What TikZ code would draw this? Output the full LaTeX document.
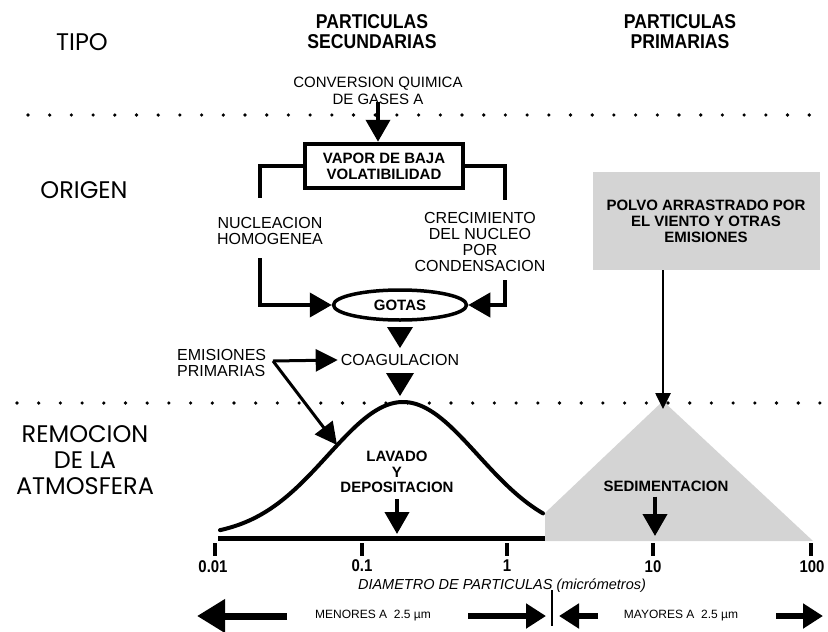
\documentclass[tikz,border=0pt]{standalone}
\usepackage{fontspec}
\setmainfont{Liberation Sans}
\newfontfamily\geo{Poppins}
\newfontfamily\hdr{Liberation Sans}[FakeStretch=0.88]
\usetikzlibrary{arrows.meta,shapes.geometric}
\definecolor{halftone}{gray}{0.83}
\begin{document}
\begin{tikzpicture}[x=1pt,y=-1pt,
  lbl/.style={font={\geo\fontsize{24}{26}\selectfont}, align=center, inner sep=0pt},
  hd/.style={font={\hdr\bfseries\fontsize{20}{20}\selectfont}, align=center, inner sep=0pt},
  txt/.style={font={\fontsize{16}{16.5}\selectfont}, align=center, inner sep=0pt},
  bl/.style={font={\bfseries\fontsize{15}{16}\selectfont}, align=center, inner sep=0pt},
  tick/.style={font={\hdr\bfseries\fontsize{17}{17}\selectfont}, inner sep=0pt},
  small/.style={font={\fontsize{12}{12}\selectfont}, inner sep=0pt},
  flow/.style={line width=4pt, -{Triangle[length=22pt,width=24pt]}},
  flowthin/.style={line width=3pt, -{Triangle[length=22pt,width=22pt]}},
  flowhair/.style={line width=2.6pt, -{Triangle[length=16pt,width=15pt]}},
  branch/.style={line width=4pt},
  bigarrow/.style={line width=7pt, -{Triangle[length=28pt,width=32pt]}},
  medarrow/.style={line width=6pt, -{Triangle[length=20pt,width=24pt]}},
  dotrow/.style={fill=black}
]
\useasboundingbox (0,0) rectangle (828,632);

% dotted separators
\foreach \k in {0,...,36} \fill[dotrow] (28+21.7*\k,115) circle (1.8pt);
\foreach \k in {0,...,37} \fill[dotrow] (17+21.7*\k,403) circle (1.8pt);

% column headings
\node[lbl] (tipo) at (82,42) {TIPO};
\node[hd] (sec) at (372,32) {PARTICULAS\\SECUNDARIAS};
\node[hd] (pri) at (680,32) {PARTICULAS\\PRIMARIAS};

% row headings
\node[lbl] (origen) at (84,190) {ORIGEN};
\node[lbl] (remocion) at (85,460) {REMOCION\\DE LA\\ATMOSFERA};

% secondary particle chain
\node[txt, font={\fontsize{15}{17}\selectfont}] (conv) at (378,91) {CONVERSION QUIMICA\\DE GASES A};
\node[draw, line width=4.5pt, minimum width=158pt, minimum height=44pt, bl] (vapor) at (384,166) {VAPOR DE BAJA\\VOLATIBILIDAD};
\node[txt] (nucl) at (270,231) {NUCLEACION\\HOMOGENEA};
\node[txt, font={\fontsize{16}{16}\selectfont}] (crec) at (480,242) {CRECIMIENTO\\DEL NUCLEO\\POR\\CONDENSACION};
\node[ellipse, draw, line width=3.5pt, minimum width=133pt, minimum height=30pt, inner sep=0pt, bl] (gotas) at (400,305) {GOTAS};
\node[txt, inner sep=3pt] (coag) at (400,360) {COAGULACION};
\node[txt, align=left, anchor=west] (emis) at (177,363) {EMISIONES\\PRIMARIAS};

\draw[flow] ([yshift=3pt]conv.south) -- (conv.south |- vapor.north);
\draw[branch] (vapor.west) -| (260,198);
\draw[branch] (vapor.east) -| (505,200);
\coordinate (nstart) at (260,258);
\coordinate (cstart) at (505,280);
\draw[flow] (nstart) |- (gotas.west);
\draw[flow] (cstart) |- (gotas.east);
\fill (387,327) -- (413,327) -- (400,348) -- cycle;
\fill (386,373) -- (414,373) -- (400,396) -- cycle;
\coordinate (emi) at (273,361);
\coordinate (curvehit) at (337,445);
\draw[flowthin] (emi) -- (coag.west);
\draw[flowthin] (emi) -- (curvehit);

% primary particles
\node[fill=halftone, minimum width=227pt, minimum height=98pt, bl] (polvo) at (706,221) {POLVO ARRASTRADO POR\\EL VIENTO Y OTRAS\\EMISIONES};
\coordinate (apex) at (663,401);
\fill[halftone] (545,541) -- (545,513) -- (apex) -- (813,541) -- cycle;
\draw[flowhair] (polvo.south -| apex) -- ([yshift=-8pt]apex);

% removal curve
\draw[line width=4pt, line cap=round] plot[domain=220:543, samples=90, smooth]
  (\x,{537-135*exp(-((\x-403)/106)*((\x-403)/106))});
\node[bl, font={\bfseries\fontsize{15}{15.5}\selectfont}] (lavado) at (397,472) {LAVADO\\Y\\DEPOSITACION};
\node[bl] (sedim) at (666,486) {SEDIMENTACION};
\coordinate (lavend) at (397,534);
\coordinate (sedend) at (655,536);
\draw[flow] ([yshift=-6pt]lavado.south) -- (lavend);
\draw[flow] ([yshift=-5pt]sedim.south -| sedend) -- (sedend);

% axis
\draw[line width=5pt] (218,538) -- (545,538);
\foreach \t in {215,362,507,653,811} \draw[line width=4.5pt] (\t,543) -- (\t,556);
\node[tick] (t1) at (213,567) {0.01};
\node[tick] (t2) at (362,566) {0.1};
\node[tick] (t3) at (507,566) {1};
\node[tick] (t4) at (653,567) {10};
\node[tick] (t5) at (812,567) {100};
\node[font={\itshape\fontsize{14.5}{14.5}\selectfont}, inner sep=0pt] (diam) at (502,586) {DIAMETRO DE PARTICULAS (micrómetros)};

% size ranges
\coordinate (a1s) at (287,616); \coordinate (a1e) at (197,616);
\coordinate (a2s) at (468,616); \coordinate (a2e) at (546,616);
\coordinate (a3s) at (598,616); \coordinate (a3e) at (559,616);
\coordinate (a4s) at (776,616); \coordinate (a4e) at (823,616);
\draw[bigarrow] (a1s) -- (a1e);
\draw[medarrow] (a2s) -- (a2e);
\draw[medarrow] (a3s) -- (a3e);
\draw[medarrow] (a4s) -- (a4e);
\draw[line width=2pt] (552,590) -- (552,626);
\node[small] (men) at (373,616) {MENORES A\ \ 2.5 µm};
\node[small] (may) at (681,616) {MAYORES A\ \ 2.5 µm};
\end{tikzpicture}
\end{document}
